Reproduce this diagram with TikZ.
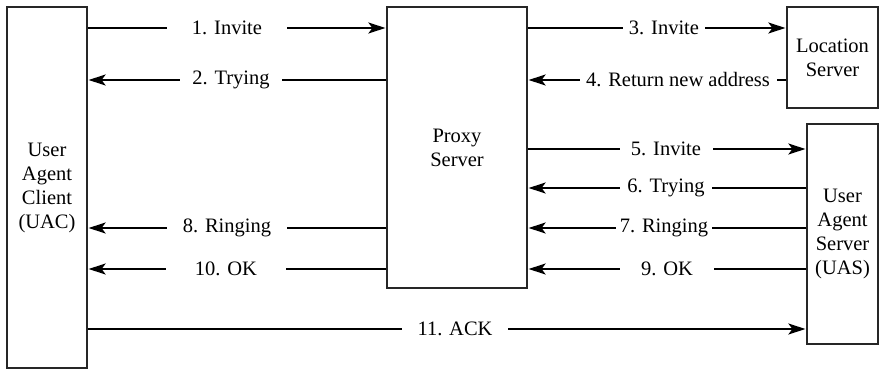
\documentclass[tikz,border=0pt]{standalone}
\usepackage{fontspec}
\setmainfont{Liberation Serif}
\newfontfamily\diagfont{Liberation Serif}
\usetikzlibrary{arrows.meta}
\begin{document}
\begin{tikzpicture}[x=1pt,y=-1pt,
  box/.style={draw=black!85,line width=1.2pt,fill=white,inner sep=0pt,align=center,
    font=\diagfont\fontsize{20.5}{24}\selectfont},
  msg/.style={line width=2pt,-{Stealth[length=17pt,width=11pt,inset=4pt]},shorten >=1pt},
  lbl/.style={fill=white,inner sep=0pt,minimum height=16pt,font=\diagfont\fontsize{20.5}{24}\selectfont}]
\useasboundingbox (0,0) rectangle (879,369);
\node[box,minimum width=80pt,minimum height=361pt] (uac) at (47,187.5) {User\\Agent\\Client\\(UAC)};
\node[box,minimum width=140pt,minimum height=281pt] (proxy) at (457,147.5) {Proxy\\Server};
\node[box,minimum width=91pt,minimum height=101pt] (loc) at (832.5,57.5) {Location\\Server};
\node[box,minimum width=71pt,minimum height=220pt,yshift=4pt] (uas) at (842.5,238) {User\\Agent\\Server\\(UAS)};
\coordinate (r1) at (0,28);
\coordinate (r2) at (0,80);
\coordinate (r5) at (0,149);
\coordinate (r6) at (0,188);
\coordinate (r7) at (0,228);
\coordinate (r9) at (0,269);
\coordinate (r11) at (0,329);
% UAC <-> Proxy
\draw[msg] (uac.east |- r1) -- (proxy.west |- r1);
\node[lbl,minimum width=120pt] (l1) at (227,28) {1. Invite};
\draw[msg] (proxy.west |- r2) -- (uac.east |- r2);
\node[lbl,minimum width=102pt] (l2) at (231,80) {2. Trying};
\draw[msg] (proxy.west |- r7) -- (uac.east |- r7);
\node[lbl,minimum width=120pt] (l8) at (227,228) {8. Ringing};
\draw[msg] (proxy.west |- r9) -- (uac.east |- r9);
\node[lbl,minimum width=120pt] (l10) at (226,269) {10. OK};
% Proxy <-> Location
\draw[msg] (proxy.east |- r1) -- (loc.west |- r1);
\node[lbl,minimum width=82pt] (l3) at (664,28) {3. Invite};
\draw[msg] (loc.west |- r2) -- (proxy.east |- r2);
\node[lbl,minimum width=197pt] (l4) at (678,80) {4. Return new address};
% Proxy <-> UAS
\draw[msg] (proxy.east |- r5) -- (uas.west |- r5);
\node[lbl,minimum width=93pt] (l5) at (666,149) {5. Invite};
\draw[msg] (uas.west |- r6) -- (proxy.east |- r6);
\node[lbl,minimum width=92pt] (l6) at (666,188) {6. Trying};
\draw[msg] (uas.west |- r7) -- (proxy.east |- r7);
\node[lbl,minimum width=96pt] (l7) at (664,228) {7. Ringing};
\draw[msg] (uas.west |- r9) -- (proxy.east |- r9);
\node[lbl,minimum width=94pt] (l9) at (667,269) {9. OK};
% UAC -> UAS
\draw[msg] (uac.east |- r11) -- (uas.west |- r11);
\node[lbl,minimum width=106pt] (l11) at (455,329) {11. ACK};
\end{tikzpicture}
\end{document}
